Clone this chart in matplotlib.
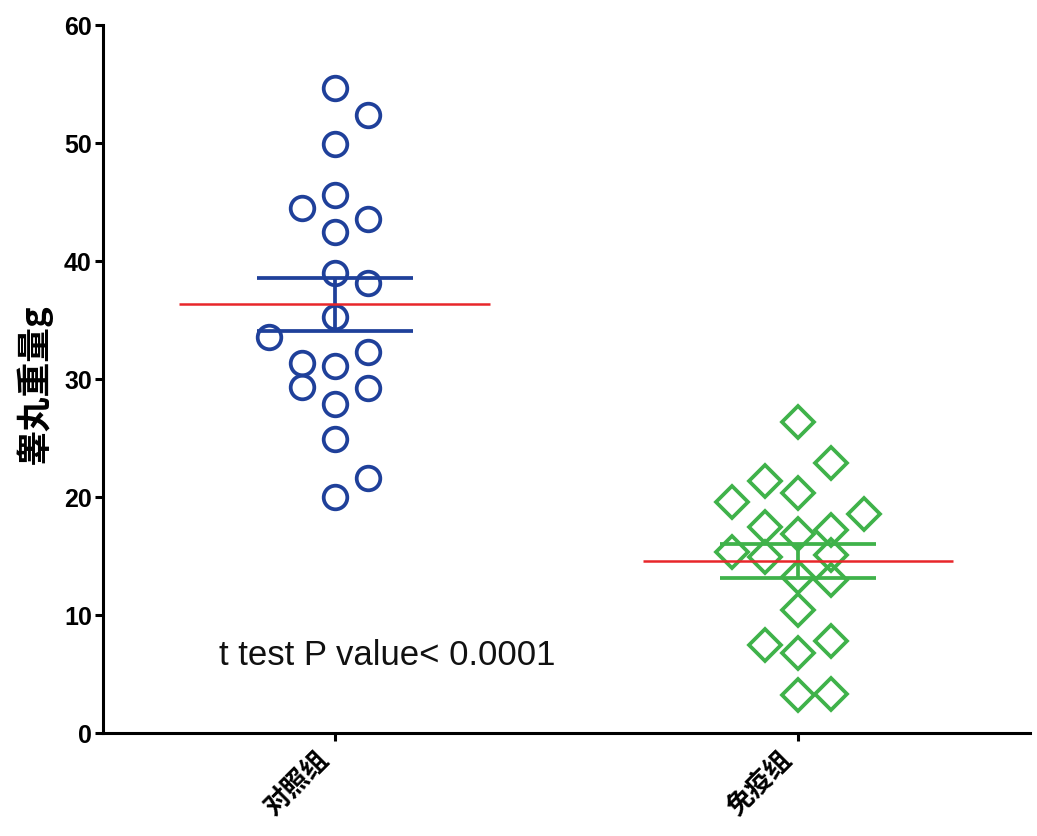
import matplotlib.pyplot as plt
import numpy as np

# group names and values
groups = ["对照组", "免疫组"]

ctrl_vals = [54.7, 52.4, 49.9, 45.6, 44.5, 43.6, 42.5, 39.0, 38.1, 35.3,
             33.6, 32.3, 31.4, 31.1, 29.3, 29.2, 27.9, 24.9, 21.6, 20.0]
# column of each point in the swarm (0 = centre)
ctrl_col = [0, 1, 0, 0, -1, 1, 0, 0, 1, 0,
            -2, 1, -1, 0, -1, 1, 0, 0, 1, 0]

immu_vals = [26.4, 22.9, 21.4, 20.3, 19.6, 18.6, 17.5, 17.2, 16.9, 15.3,
             14.9, 15.1, 13.2, 13.0, 10.4, 7.5, 6.8, 7.8, 3.2, 3.3]
immu_col = [0, 1, -1, 0, -2, 2, -1, 1, 0, -2,
            -1, 1, 0, 1, 0, -1, 0, 1, 0, 1]

p_text = "t test P value< 0.0001"

blue = "#1f409a"
green = "#3fb24a"
red = "#e8262a"
step = 0.0713

fig = plt.figure(figsize=(10.37, 8.36), dpi=100)
ax = fig.add_axes([0.0993, 0.1232, 0.8939, 0.8468])

sets = [(ctrl_vals, ctrl_col, "o", blue, 17), (immu_vals, immu_col, "D", green, 16)]
for i, (vals, cols, mk, c, ms) in enumerate(sets):
    vals = np.array(vals)
    xs = i + np.array(cols) * step
    ax.plot(xs, vals, linestyle="none", marker=mk, markersize=ms,
            markerfacecolor="none", markeredgecolor=c, markeredgewidth=2.7, zorder=2)
    mean = vals.mean()
    sem = vals.std(ddof=1) / np.sqrt(len(vals))
    ax.errorbar([i], [mean], yerr=[sem], color=c, elinewidth=2.7, capsize=56,
                capthick=2.7, zorder=3)
    ax.hlines(mean, i - 0.335, i + 0.335, color=red, linewidth=1.8, zorder=4)

ax.text(-0.25, 6.6, p_text, ha="left", va="center", fontsize=25,
        family="Liberation Sans", color="#111111")

ax.set_xlim(-0.5, 1.5)
ax.set_ylim(0, 60)
ax.set_yticks([0, 10, 20, 30, 40, 50, 60])
ax.set_xticks([0, 1])
ax.set_xticklabels(groups, rotation=45, ha="right", va="top",
                   family=["Noto Sans CJK SC", "DejaVu Sans"], fontsize=19,
                   fontweight="bold")
for lab in ax.get_yticklabels():
    lab.set_family("Liberation Sans")
    lab.set_fontweight("bold")
    lab.set_fontsize(18)

ax.spines["top"].set_visible(False)
ax.spines["right"].set_visible(False)
ax.spines["left"].set_linewidth(2.2)
ax.spines["bottom"].set_linewidth(2.2)
ax.tick_params(axis="y", length=6, width=2.2, pad=2)
ax.tick_params(axis="x", length=6, width=2.2, pad=4)

fig.text(35 / 1037, 0.54, "睾丸重量g", rotation=90, ha="center", va="center",
         fontsize=25, fontweight="bold", family=["Noto Sans CJK SC", "DejaVu Sans"])

fig.savefig("out.png", dpi=100)
